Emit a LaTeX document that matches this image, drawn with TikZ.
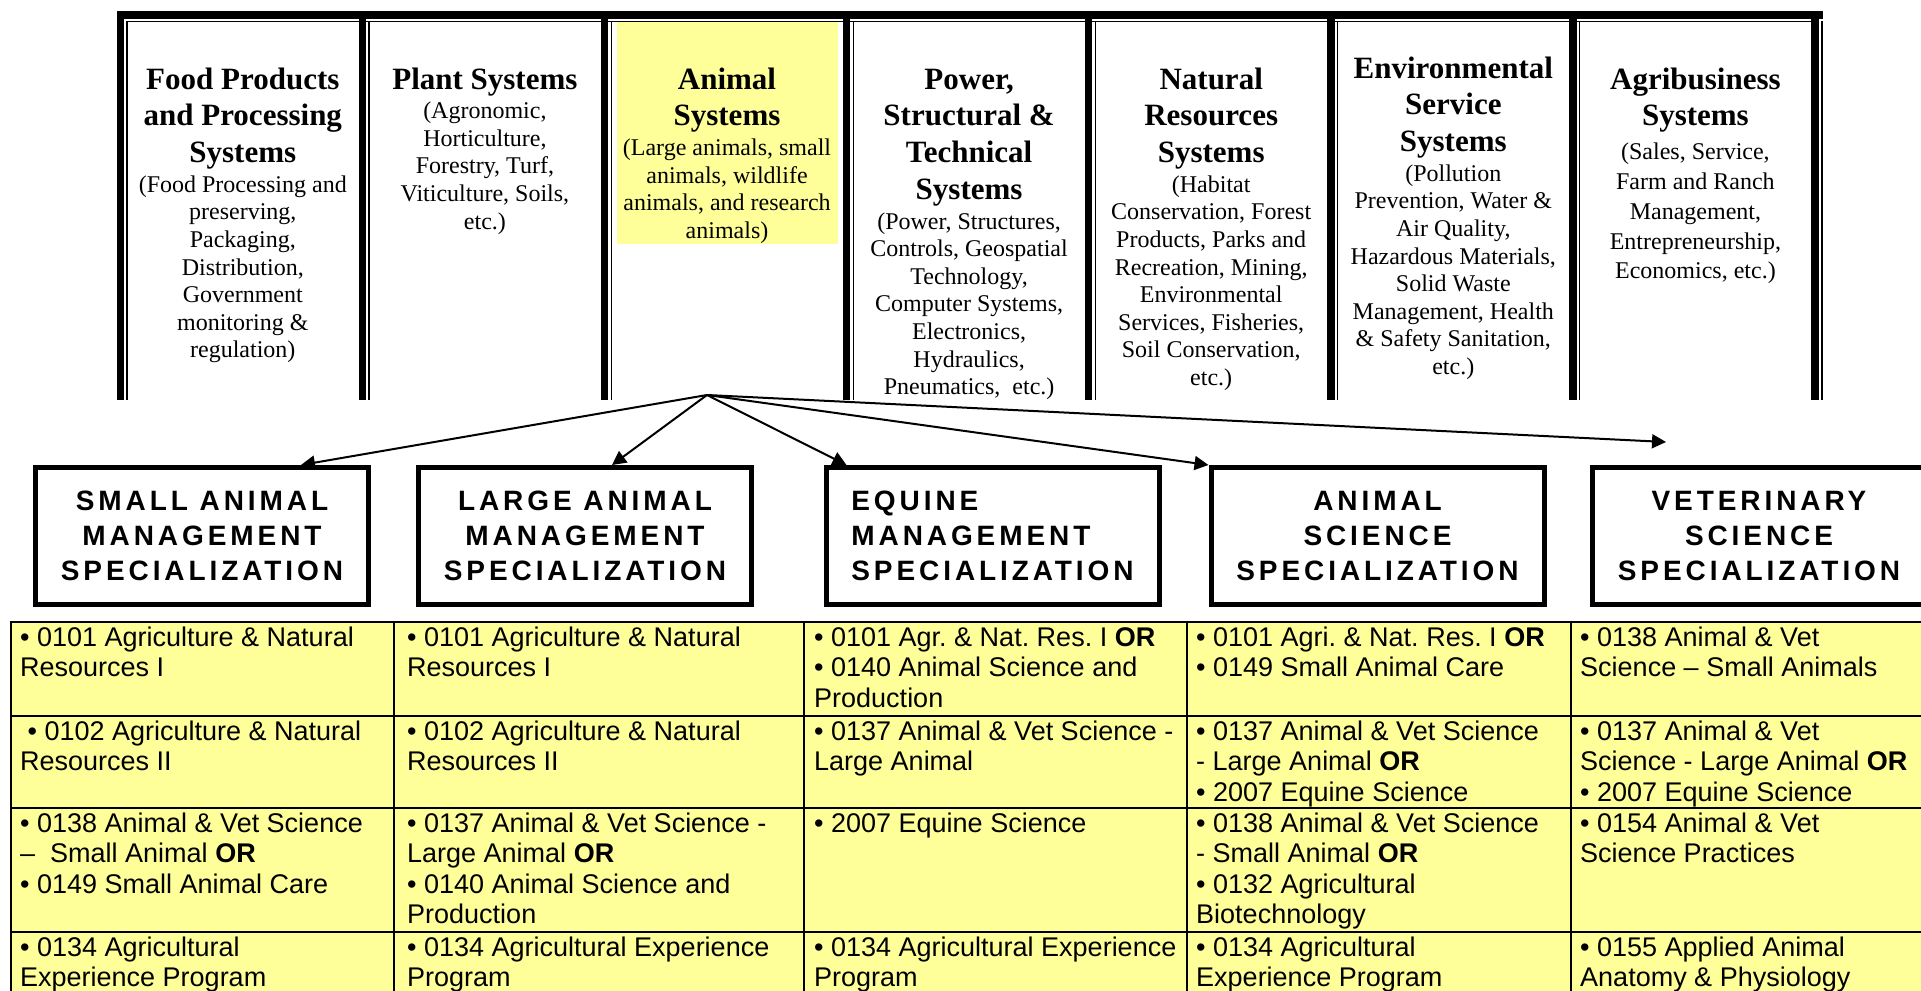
\documentclass[tikz,border=0pt]{standalone}
\usepackage{fontspec}
\setmainfont{Liberation Serif}
\newfontfamily\tabfont{Liberation Sans}
\newfontfamily\specfont{Liberation Sans}[LetterSpace=14]
\usetikzlibrary{arrows.meta,calc}
\definecolor{lightyel}{HTML}{FFFF99}
\newcommand{\ttlf}{\fontsize{31}{36.8}\selectfont\bfseries}
\newcommand{\dscf}{\par\vspace{2pt}\fontsize{24}{27.6}\selectfont\mdseries}
\newcommand{\dscagri}{\par\vspace{4pt}\fontsize{24}{29.8}\selectfont\mdseries}
\begin{document}
\begin{tikzpicture}[x=1pt,y=-1pt,
  natspaces/.style={execute at begin node={\frenchspacing\spaceskip=0pt\relax\xspaceskip=0pt\relax}},
  thinrule/.style={draw=black,line width=1.5pt},
  coltext/.style={anchor=base,inner sep=0pt,text width=236pt,align=center,natspaces,
    execute at begin node={\centering}},
  specbox/.style={draw=black,line width=5pt,minimum width=333pt,minimum height=137pt,
    inner sep=0pt,align=center,font=\specfont\bfseries\fontsize{28}{35}\selectfont},
  link/.style={draw=black,line width=2pt,-{Triangle[length=14pt,width=14pt]}},
  cell/.style={anchor=base west,inner sep=0pt,text width=390pt,align=left,natspaces,
    execute at begin node={\raggedright},
    font=\tabfont\fontsize{27}{30.6}\selectfont},
  gridline/.style={draw=black,line width=2pt}
]
\useasboundingbox (0,0) rectangle (1921,990);
\clip (0,0) rectangle (1921,990);
\fill[white] (0,0) rectangle (1921,990);

% ---------- top frame ----------
\fill[lightyel] (617,22.5) rectangle (838,244);
\fill[black] (116.7,11) rectangle (1822.7,19);
\draw[thinrule] (126.5,21.3) -- (1811,21.3);
\foreach \i in {0,...,7}{
  \pgfmathsetmacro{\sx}{120.3+242.1*\i}
  \fill[black] ({\sx-3.7},11) rectangle ({\sx+3.7},400);
  \draw[thinrule] ({\sx+6.8},21.3) -- ({\sx+6.8},400);
}

\node[coltext] (food) at (242.8,89) {\ttlf Food Products\\and Processing\\Systems\dscf (Food Processing and\\preserving,\\Packaging,\\Distribution,\\Government\\monitoring \&\\regulation)\par};
\node[coltext] (plant) at (484.9,89) {\ttlf Plant Systems\dscf (Agronomic,\\Horticulture,\\Forestry, Turf,\\Viticulture, Soils,\\etc.)\par};
\node[coltext] (animal) at (727.0,89) {\ttlf Animal\\Systems\dscf (Large animals, small\\animals, wildlife\\animals, and research\\animals)\par};
\node[coltext] (power) at (969.1,89) {\ttlf Power,\\Structural \&\\Technical\\Systems\dscf (Power, Structures,\\Controls, Geospatial\\Technology,\\Computer Systems,\\Electronics,\\Hydraulics,\\Pneumatics,~~etc.)\par};
\node[coltext] (natural) at (1211.2,89) {\ttlf Natural\\Resources\\Systems\dscf (Habitat\\Conservation, Forest\\Products, Parks and\\Recreation, Mining,\\Environmental\\Services, Fisheries,\\Soil Conservation,\\etc.)\par};
\node[coltext] (env) at (1453.3,78) {\ttlf Environmental\\Service\\Systems\dscf (Pollution\\Prevention, Water \&\\Air Quality,\\Hazardous Materials,\\Solid Waste\\Management, Health\\\& Safety Sanitation,\\etc.)\par};
\node[coltext] (agri) at (1695.4,89) {\ttlf Agribusiness\\Systems\dscagri (Sales, Service,\\Farm and Ranch\\Management,\\Entrepreneurship,\\Economics, etc.)\par};

% ---------- specialization boxes ----------
\node[specbox] (b1) at (202,536) {SMALL ANIMAL\\MANAGEMENT\\SPECIALIZATION};
\node[specbox] (b2) at (585,536) {LARGE ANIMAL\\MANAGEMENT\\SPECIALIZATION};
\node[specbox,align=left] (b3) at (992.5,536) {EQUINE\\MANAGEMENT\\SPECIALIZATION};
\node[specbox] (b4) at (1377.5,536) {ANIMAL\\SCIENCE\\SPECIALIZATION};
\node[specbox] (b5) at (1759,536) {VETERINARY\\SCIENCE\\SPECIALIZATION};

% ---------- connectors ----------
\coordinate (hub) at (707,395);
\coordinate (vetend) at (1666,442);
\draw[link] (hub) -- ($(b1.north)+(99,0)$);
\draw[link] (hub) -- ($(b2.north)+(27,0)$);
\draw[link] (hub) -- ($(b3.north west)+(23,0)$);
\draw[link] (hub) -- (b4.north west);
\draw[link] (hub) -- (vetend);

% ---------- course table ----------
\fill[lightyel] (11,622) rectangle (1930,1000);
\foreach \yy in {622,716,808,932}{\draw[gridline] (10,\yy) -- (1930,\yy);}
\foreach \xx in {11,394,804,1187,1571}{\draw[gridline] (\xx,621) -- (\xx,1000);}

% row 1
\node[cell] (r1c1) at (20,646) {• 0101 Agriculture \& Natural\\Resources I};
\node[cell] (r1c2) at (407,646) {• 0101 Agriculture \& Natural\\Resources I};
\node[cell] (r1c3) at (814,646) {• 0101 Agr. \& Nat. Res. I \textbf{OR}\\• 0140 Animal Science and\\Production};
\node[cell] (r1c4) at (1196,646) {• 0101 Agri. \& Nat. Res. I \textbf{OR}\\• 0149 Small Animal Care};
\node[cell] (r1c5) at (1580,646) {• 0138 Animal \& Vet\\Science – Small Animals};
% row 2
\node[cell] (r2c1) at (20,740) {\hspace*{7.4pt}• 0102 Agriculture \& Natural\\Resources II};
\node[cell] (r2c2) at (407,740) {• 0102 Agriculture \& Natural\\Resources II};
\node[cell] (r2c3) at (814,740) {• 0137 Animal \& Vet Science -\\Large Animal};
\node[cell] (r2c4) at (1196,740) {• 0137 Animal \& Vet Science\\- Large Animal \textbf{OR}\\• 2007 Equine Science};
\node[cell] (r2c5) at (1580,740) {• 0137 Animal \& Vet\\Science - Large Animal \textbf{OR}\\• 2007 Equine Science};
% row 3
\node[cell] (r3c1) at (20,832) {• 0138 Animal \& Vet Science\\–~~Small Animal \textbf{OR}\\• 0149 Small Animal Care};
\node[cell] (r3c2) at (407,832) {• 0137 Animal \& Vet Science -\\Large Animal \textbf{OR}\\• 0140 Animal Science and\\Production};
\node[cell] (r3c3) at (814,832) {• 2007 Equine Science};
\node[cell] (r3c4) at (1196,832) {• 0138 Animal \& Vet Science\\- Small Animal \textbf{OR}\\• 0132 Agricultural\\Biotechnology};
\node[cell] (r3c5) at (1580,832) {• 0154 Animal \& Vet\\Science Practices};
% row 4
\node[cell] (r4c1) at (20,956) {• 0134 Agricultural\\Experience Program};
\node[cell] (r4c2) at (407,956) {• 0134 Agricultural Experience\\Program};
\node[cell] (r4c3) at (814,956) {• 0134 Agricultural Experience\\Program};
\node[cell] (r4c4) at (1196,956) {• 0134 Agricultural\\Experience Program};
\node[cell] (r4c5) at (1580,956) {• 0155 Applied Animal\\Anatomy \& Physiology};
\end{tikzpicture}
\end{document}
